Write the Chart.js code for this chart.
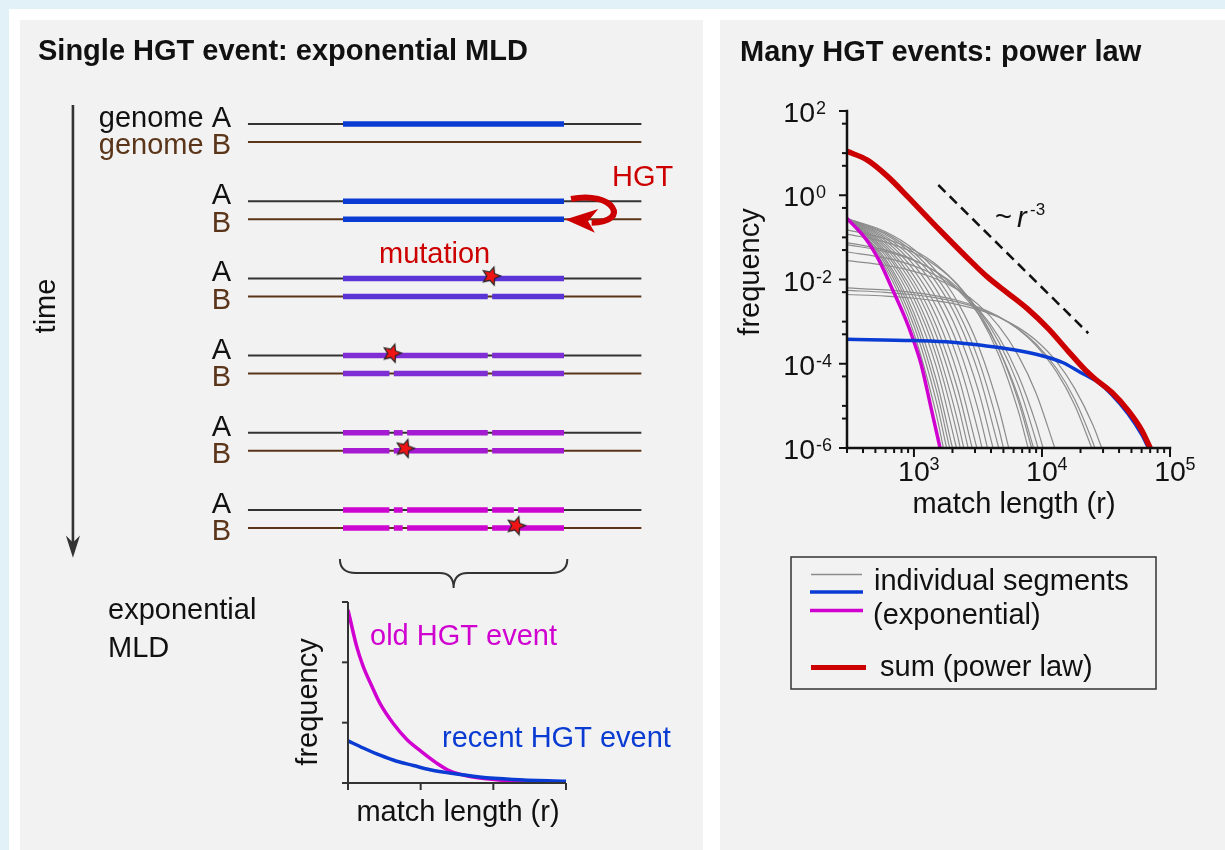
<!DOCTYPE html>
<html>
<head>
<meta charset="utf-8">
<script src="https://cdn.jsdelivr.net/npm/chart.js@4.4.0/dist/chart.umd.min.js"></script>
<style>
  html, body { margin: 0; padding: 0; }
  body { width: 1225px; height: 850px; background: #e2f1f7; position: relative; overflow: hidden; }
  #frame { position: absolute; left: 9px; top: 9px; width: 1216px; height: 841px; background: #ffffff; }
  .panel { position: absolute; top: 20px; height: 830px; background: #f2f2f2; }
  #leftPanel { left: 20px; width: 683px; }
  #rightPanel { left: 720px; width: 505px; }
  canvas { position: absolute; }
  #schematic { left: 20px; top: 20px; }
  #mld { left: 290px; top: 590px; }
  #powerlaw { left: 720px; top: 20px; }
</style>
</head>
<body>
<div id="frame"></div>
<div class="panel" id="leftPanel"></div>
<div class="panel" id="rightPanel"></div>
<canvas id="schematic" width="683" height="830"></canvas>
<canvas id="mld" width="400" height="250"></canvas>
<canvas id="powerlaw" width="505" height="830"></canvas>
<script>
const FONT = '"Liberation Sans", Arial, Helvetica, sans-serif';
const INK = '#111111';
const RED = '#cc0000';
const BLUE = '#0a3bd2';
const MAGENTA = '#d000d0';
const GRAY = '#8c8c8c';
const BROWN = '#5a3519';

// ---- left panel: genome rows, positions along the transferred stretch (0-100) ----
const genomeExtent = [-43, 135];
const rowColors = ['#0a3bd2', '#0a3bd2', '#5b34d6', '#7e2ed2', '#a41bd1', '#cd05d0'];
const rowLabelsA = ['genome A', 'A', 'A', 'A', 'A', 'A'];
const rowLabelsB = ['genome B', 'B', 'B', 'B', 'B', 'B'];
const piecesA = [
  [[0, 100]],
  [[0, 100]],
  [[0, 100]],
  [[0, 65.5], [67.5, 100]],
  [[0, 21], [23, 27], [29, 65.5], [67.5, 100]],
  [[0, 21], [23, 27], [29, 65.5], [67.5, 77.3], [79.2, 100]]
];
const piecesB = [
  [],
  [[0, 100]],
  [[0, 65.5], [67.5, 100]],
  [[0, 21], [23, 65.5], [67.5, 100]],
  [[0, 21], [23, 27], [29, 65.5], [67.5, 100]],
  [[0, 21], [23, 27], [29, 65.5], [67.5, 100]]
];
// row, genome, position of each new mutation
const mutations = [[2, 'A', 67], [3, 'A', 22.2], [4, 'B', 28.1], [5, 'B', 78.3]];
const B_OFFSET = 0.233;

// ---- inset: exponential match length distributions (arbitrary units) ----
const mldOld = [[0, 2.87], [0.12, 2.26], [0.21, 1.93], [0.33, 1.6], [0.44, 1.32], [0.62, 0.99], [0.81, 0.72],
  [1.01, 0.52], [1.22, 0.33], [1.4, 0.2], [1.63, 0.12], [1.91, 0.07], [2.27, 0.035], [3.0, 0.01]];
const mldRecent = [[0, 0.7], [0.21, 0.58], [0.44, 0.46], [0.67, 0.36], [0.9, 0.29], [1.13, 0.22], [1.4, 0.165],
  [1.81, 0.1], [2.27, 0.06], [3.0, 0.028]];
const mldTicks = [0, 1, 2, 3];

// ---- right panel: match length (r) vs frequency ----
const sumCurve = [[300, 11], [433, 6.8], [622, 2.8], [893, 0.93], [1280, 0.295], [1630, 0.138], [2640, 0.0316],
  [3780, 0.0112], [5430, 0.0047], [7800, 0.00195], [11200, 6.8e-4], [16000, 2.0e-4], [21700, 7.2e-5],
  [25900, 4.4e-5], [35100, 2.1e-5], [47400, 7.6e-6], [60300, 2.6e-6], [70000, 1e-6]];
const recentCurve = [[300, 3.8e-4], [1000, 3.55e-4], [2000, 3.25e-4], [3500, 2.7e-4], [6000, 2.15e-4],
  [10000, 1.55e-4], [14500, 1.07e-4], [20000, 6.2e-5], [27500, 3.6e-5], [35000, 1.85e-5], [47000, 6.5e-6],
  [60000, 2.1e-6], [68000, 1e-6]];
const oldCurve = [[300, 0.28], [420, 0.093], [535, 0.028], [680, 0.0058], [865, 1.1e-3], [980, 4.0e-4],
  [1135, 1.0e-4], [1360, 9e-6], [1600, 1e-6]];
const segmentCurves = [
  [[300, 0.28], [600, 0.019], [1000, 5.3e-4], [1500, 6.0e-6], [1700, 1e-6]],
  [[300, 0.28], [600, 0.0228], [1000, 8.0e-4], [1500, 1.23e-5], [1800, 1e-6]],
  [[300, 0.28], [600, 0.0267], [1000, 1.16e-3], [1500, 2.3e-5], [1900, 1e-6]],
  [[300, 0.28], [600, 0.0306], [1000, 1.6e-3], [1500, 4.0e-5], [2000, 1e-6]],
  [[300, 0.28], [600, 0.0366], [1000, 2.43e-3], [1500, 8.2e-5], [2150, 1e-6]],
  [[300, 0.28], [600, 0.0427], [1000, 3.47e-3], [1500, 1.5e-4], [2200, 1.87e-6], [2300, 1e-6]],
  [[300, 0.28], [600, 0.0487], [1000, 4.7e-3], [1500, 2.55e-4], [2200, 4.3e-6], [2450, 1e-6]],
  [[300, 0.28], [600, 0.0565], [1000, 6.7e-3], [1500, 4.6e-4], [2200, 1.1e-5], [2650, 1e-6]],
  [[300, 0.28], [600, 0.064], [1000, 8.95e-3], [1500, 7.7e-4], [2200, 2.45e-5], [2850, 1e-6]],
  [[300, 0.28], [600, 0.073], [1000, 0.0122], [1500, 1.3e-3], [2200, 5.6e-5], [3100, 1e-6]],
  [[300, 0.28], [600, 0.083], [1000, 0.0165], [1500, 2.2e-3], [2200, 1.29e-4], [3200, 2.25e-6], [3400, 1e-6]],
  [[300, 0.28], [600, 0.094], [1000, 0.022], [1500, 3.56e-3], [2200, 2.8e-4], [3200, 7.4e-6], [3750, 1e-6]],
  [[300, 0.28], [600, 0.105], [1000, 0.0286], [1500, 5.6e-3], [2200, 5.7e-4], [3200, 2.2e-5], [4150, 1e-6]],
  [[300, 0.28], [600, 0.117], [1000, 0.0363], [1500, 8.45e-3], [2200, 1.1e-3], [3200, 5.9e-5], [4600, 1e-6]],
  [[300, 0.28], [600, 0.126], [1000, 0.0433], [1500, 0.0114], [2200, 1.76e-3], [3200, 1.22e-4], [4600, 2.9e-6], [5000, 1e-6]],
  [[300, 0.28], [600, 0.136], [1000, 0.0518], [1500, 0.0155], [2200, 2.86e-3], [3200, 2.56e-4], [4600, 8.8e-6], [5500, 1e-6]],
  [[300, 0.15], [600, 0.093], [1000, 0.0493], [1500, 0.0223], [2200, 7.3e-3], [3200, 1.5e-3], [4600, 1.62e-4], [6500, 7.9e-6], [7800, 1e-6]],
  [[300, 0.12], [600, 0.0773], [1000, 0.043], [1500, 0.0207], [2200, 7.5e-3], [3200, 1.73e-3], [4600, 2.23e-4], [6500, 1.39e-5], [8300, 1e-6]],
  [[300, 0.075], [600, 0.05], [1000, 0.0291], [1500, 0.0148], [2200, 5.7e-3], [3200, 1.49e-3], [4600, 2.24e-4], [6500, 1.71e-5], [8600, 1e-6]],
  [[300, 0.067], [600, 0.0462], [1000, 0.0282], [1500, 0.0152], [2200, 6.4e-3], [3200, 1.87e-3], [4600, 3.3e-4], [6500, 3.2e-5], [9000, 1.45e-6], [9300, 1e-6]],
  [[300, 0.045], [600, 0.0325], [1000, 0.0211], [1500, 0.0123], [2200, 5.75e-3], [3200, 1.95e-3], [4600, 4.3e-4], [6500, 5.5e-5], [9000, 3.7e-6], [10200, 1e-6]],
  [[300, 0.028], [600, 0.0218], [1000, 0.0156], [1500, 0.0103], [2200, 5.75e-3], [3200, 2.5e-3], [4600, 7.8e-4], [6500, 1.6e-4], [9000, 2.0e-5], [12600, 1e-6]],
  [[300, 0.0063], [600, 5.65e-3], [1000, 4.9e-3], [1500, 4.1e-3], [2200, 3.17e-3], [3200, 2.2e-3], [4600, 1.33e-3], [6500, 6.7e-4], [9000, 2.7e-4], [13000, 6.4e-5], [18000, 1.05e-5], [24500, 1e-6]],
  [[300, 0.0055], [600, 4.97e-3], [1000, 4.34e-3], [1500, 3.67e-3], [2200, 2.9e-3], [3200, 2.07e-3], [4600, 1.29e-3], [6500, 6.8e-4], [9000, 2.94e-4], [13000, 7.7e-5], [18000, 1.43e-5], [25000, 1.35e-6], [25900, 1e-6]],
  [[300, 0.0044], [600, 4.03e-3], [1000, 3.59e-3], [1500, 3.1e-3], [2200, 2.54e-3], [3200, 1.9e-3], [4600, 1.27e-3], [6500, 7.3e-4], [9000, 3.55e-4], [13000, 1.12e-4], [18000, 2.6e-5], [25000, 3.5e-6], [29300, 1e-6]]
];
const slopeGuide = [[1550, 1.75], [23000, 5.3e-4]];
const xRange = [300, 1e5];
const yRange = [1e-6, 1e2];
const xMajorTicks = [1e3, 1e4, 1e5];
const xMajorExp = ['3', '4', '5'];
const xMinorTicks = [300, 400, 500, 600, 700, 800, 900, 2000, 3000, 4000, 5000, 6000, 7000, 8000, 9000,
  20000, 30000, 40000, 50000, 60000, 70000, 80000, 90000];
const yMajorTicks = [1e2, 1, 1e-2, 1e-4, 1e-6];
const yMajorExp = ['2', '0', '-2', '-4', '-6'];
const yMinorTicks = [50, 10, 5, 0.5, 0.1, 0.05, 5e-3, 1e-3, 5e-4, 5e-5, 1e-5, 5e-6];

const xy = pts => pts.map(p => ({ x: p[0], y: p[1] }));

function label(ctx, str, x, y, o = {}) {
  ctx.save();
  ctx.font = o.font || `29px ${FONT}`;
  ctx.fillStyle = o.color || INK;
  ctx.textAlign = o.align || 'left';
  ctx.textBaseline = 'alphabetic';
  if (o.rotate) {
    ctx.translate(x, y);
    ctx.rotate(o.rotate);
    ctx.fillText(str, 0, 0);
  } else {
    ctx.fillText(str, x, y);
  }
  ctx.restore();
}

function seg(ctx, x1, y1, x2, y2) {
  ctx.beginPath();
  ctx.moveTo(x1, y1);
  ctx.lineTo(x2, y2);
  ctx.stroke();
}

// red star with dark outline used for mutations
function makeStar(size) {
  const c = document.createElement('canvas');
  c.width = c.height = size;
  const g = c.getContext('2d');
  const R = size / 2 - 1.5, r = R * 0.45;
  g.beginPath();
  for (let i = 0; i < 10; i++) {
    const a = -Math.PI / 2 + 0.3 + i * Math.PI / 5;
    const rad = i % 2 ? r : R;
    g.lineTo(size / 2 + rad * Math.cos(a), size / 2 + rad * Math.sin(a));
  }
  g.closePath();
  g.fillStyle = '#f01414';
  g.fill();
  g.strokeStyle = '#262626';
  g.lineWidth = 1.2;
  g.stroke();
  return c;
}

// ---------------- left panel: schematic ----------------
const schematicSets = [];
rowLabelsA.forEach((_, i) => {
  [[i, piecesA[i], '#333333'], [i + B_OFFSET, piecesB[i], BROWN]].forEach(([y, pieces, col]) => {
    schematicSets.push({ data: genomeExtent.map(x => ({ x, y })), borderColor: col, borderWidth: 2, order: 3 });
    pieces.forEach(p => schematicSets.push({
      data: p.map(x => ({ x, y })), borderColor: rowColors[i], borderWidth: 5.5, order: 2
    }));
  });
});
schematicSets.push({
  data: mutations.map(m => ({ x: m[2], y: m[0] + (m[1] === 'B' ? B_OFFSET : 0) - 0.03 })),
  showLine: false, pointStyle: makeStar(22), pointRadius: 10, order: 0
});

const schematicDecor = {
  id: 'schematicDecor',
  afterDatasetsDraw(chart) {
    const { ctx } = chart;
    const sx = v => chart.scales.x.getPixelForValue(v);
    const sy = v => chart.scales.y.getPixelForValue(v);

    label(ctx, 'Single HGT event: exponential MLD', 18, 39.5, { font: `bold 29px ${FONT}` });

    // time arrow
    ctx.save();
    ctx.strokeStyle = '#333';
    ctx.fillStyle = '#333';
    ctx.lineWidth = 2.6;
    seg(ctx, sx(-122.2), sy(-0.246), sx(-122.2), sy(5.45));
    ctx.beginPath();
    ctx.moveTo(sx(-122.2), sy(5.62));
    ctx.lineTo(sx(-125.4), sy(5.33));
    ctx.lineTo(sx(-122.2), sy(5.42));
    ctx.lineTo(sx(-119.0), sy(5.33));
    ctx.closePath();
    ctx.fill();
    ctx.restore();
    label(ctx, 'time', 35, 286, { rotate: -Math.PI / 2, align: 'center' });

    // row labels
    rowLabelsA.forEach((t, i) => {
      label(ctx, t, 211, sy(i) + 3, { align: 'right' });
      label(ctx, rowLabelsB[i], 211, sy(i + B_OFFSET) + 12.5, { align: 'right', color: BROWN });
    });

    // HGT transfer arrow from A back onto B
    ctx.save();
    ctx.strokeStyle = RED;
    ctx.fillStyle = RED;
    ctx.lineWidth = 6;
    ctx.beginPath();
    ctx.moveTo(sx(103.2), sy(0.971));
    ctx.bezierCurveTo(sx(122.5), sy(0.86), sx(130.5), sy(1.27), sx(112.5), sy(1.28));
    ctx.stroke();
    ctx.beginPath();
    ctx.moveTo(sx(100.6), sy(1.237));
    ctx.lineTo(sx(115.5), sy(1.10));
    ctx.lineTo(sx(110.9), sy(1.26));
    ctx.lineTo(sx(114.0), sy(1.41));
    ctx.closePath();
    ctx.fill();
    ctx.restore();
    label(ctx, 'HGT', 592, 166, { color: RED });
    label(ctx, 'mutation', 359, 243, { color: RED });

    // brace collecting the final segments
    const L = sx(-1.4), R = sx(101.5), M = (L + R) / 2;
    const yTop = sy(5.635), yMid = sy(5.816), yTip = sy(6.01);
    ctx.save();
    ctx.strokeStyle = '#333';
    ctx.lineWidth = 2;
    ctx.beginPath();
    ctx.moveTo(L, yTop);
    ctx.quadraticCurveTo(L, yMid, L + 16, yMid);
    ctx.lineTo(M - 14, yMid);
    ctx.quadraticCurveTo(M, yMid, M, yTip);
    ctx.moveTo(R, yTop);
    ctx.quadraticCurveTo(R, yMid, R - 16, yMid);
    ctx.lineTo(M + 14, yMid);
    ctx.quadraticCurveTo(M, yMid, M, yTip);
    ctx.stroke();
    ctx.restore();

    label(ctx, 'exponential', 88, 599);
    label(ctx, 'MLD', 88, 637);
  }
};

new Chart(document.getElementById('schematic'), {
  type: 'scatter',
  data: { datasets: schematicSets },
  options: {
    responsive: false,
    animation: false,
    devicePixelRatio: 1,
    events: [],
    layout: { padding: { left: 323, right: 139, top: 104, bottom: 262.8 } },
    datasets: { scatter: { showLine: true, pointRadius: 0, clip: false, borderCapStyle: 'butt' } },
    scales: {
      x: { type: 'linear', min: 0, max: 100, display: false },
      y: { type: 'linear', min: 0, max: 6, reverse: true, display: false }
    },
    plugins: { legend: { display: false }, tooltip: { enabled: false } }
  },
  plugins: [schematicDecor]
});

// ---------------- inset: exponential MLD ----------------
const mldAxes = {
  id: 'mldAxes',
  afterDatasetsDraw(chart) {
    const { ctx, scales: { x, y } } = chart;
    const x0 = x.getPixelForValue(0), x1 = x.getPixelForValue(3);
    const y0 = y.getPixelForValue(0), y1 = y.getPixelForValue(3);
    ctx.save();
    ctx.strokeStyle = '#333';
    ctx.lineWidth = 2;
    seg(ctx, x0, y1, x0, y0);
    seg(ctx, x0, y0, x1, y0);
    mldTicks.forEach(t => {
      seg(ctx, x0 - 6, y.getPixelForValue(t), x0, y.getPixelForValue(t));
      seg(ctx, x.getPixelForValue(t), y0, x.getPixelForValue(t), y0 + 7);
    });
    ctx.restore();
    label(ctx, 'frequency', 27, 112, { rotate: -Math.PI / 2, align: 'center' });
    label(ctx, 'match length (r)', 168, 231, { align: 'center' });
    label(ctx, 'old HGT event', 80, 55, { color: MAGENTA });
    label(ctx, 'recent HGT event', 152, 157, { color: BLUE });
  }
};

new Chart(document.getElementById('mld'), {
  type: 'line',
  data: {
    datasets: [
      { data: xy(mldRecent), borderColor: BLUE, order: 0 },
      { data: xy(mldOld), borderColor: MAGENTA, order: 1 }
    ]
  },
  options: {
    responsive: false,
    animation: false,
    devicePixelRatio: 1,
    events: [],
    layout: { padding: { left: 58, right: 124, top: 12, bottom: 57 } },
    datasets: { line: { borderWidth: 3.5, pointRadius: 0, cubicInterpolationMode: 'monotone' } },
    scales: {
      x: { type: 'linear', min: 0, max: 3, display: false },
      y: { type: 'linear', min: 0, max: 3, display: false }
    },
    plugins: { legend: { display: false }, tooltip: { enabled: false } }
  },
  plugins: [mldAxes]
});

// ---------------- right panel: power law ----------------
function powerOfTen(ctx, exp, x, y, supX, supY, align) {
  label(ctx, '10', x, y, { align, font: `28.5px ${FONT}` });
  label(ctx, exp, supX, supY, { font: `18px ${FONT}` });
}

const logAxes = {
  id: 'logAxes',
  afterDatasetsDraw(chart) {
    const { ctx, scales: { x, y } } = chart;
    const left = x.getPixelForValue(xRange[0]), right = x.getPixelForValue(xRange[1]);
    const top = y.getPixelForValue(yRange[1]), bottom = y.getPixelForValue(yRange[0]);

    label(ctx, 'Many HGT events: power law', 20, 41, { font: `bold 29px ${FONT}` });

    ctx.save();
    ctx.strokeStyle = INK;
    ctx.lineWidth = 2;
    yMajorTicks.forEach(v => seg(ctx, left - 8, y.getPixelForValue(v), left, y.getPixelForValue(v)));
    yMinorTicks.forEach(v => seg(ctx, left - 5, y.getPixelForValue(v), left, y.getPixelForValue(v)));
    xMajorTicks.forEach(v => seg(ctx, x.getPixelForValue(v), bottom, x.getPixelForValue(v), bottom + 9));
    xMinorTicks.forEach(v => seg(ctx, x.getPixelForValue(v), bottom, x.getPixelForValue(v), bottom + 5));
    ctx.lineWidth = 2.5;
    ctx.lineCap = 'square';
    seg(ctx, left, top, left, bottom);
    seg(ctx, left, bottom, right, bottom);
    ctx.restore();

    yMajorTicks.forEach((v, i) => {
      const p = y.getPixelForValue(v);
      powerOfTen(ctx, yMajorExp[i], left - 32, p + 11, left - 31, p + 3, 'right');
    });
    xMajorTicks.forEach((v, i) => {
      const p = x.getPixelForValue(v);
      powerOfTen(ctx, xMajorExp[i], p, bottom + 33, p + 15.5, bottom + 22, 'center');
    });

    label(ctx, 'frequency', 39, 252, { rotate: -Math.PI / 2, align: 'center' });
    label(ctx, 'match length (r)', 294, 493, { align: 'center' });

    // slope annotation
    label(ctx, '~', 275, 206);
    label(ctx, 'r', 297, 207, { font: `italic 29px ${FONT}` });
    label(ctx, '-3', 310, 195, { font: `17px ${FONT}` });

    // legend
    ctx.save();
    ctx.strokeStyle = '#333';
    ctx.lineWidth = 1.5;
    ctx.strokeRect(71, 537, 365, 132);
    const entries = [[GRAY, 1.5, 554.5, 91, 142], [BLUE, 3.5, 572, 90, 143], [MAGENTA, 3.5, 590.5, 90, 143], [RED, 5, 647.5, 91, 146]];
    entries.forEach(([c, w, ly, a, b]) => {
      ctx.strokeStyle = c;
      ctx.lineWidth = w;
      seg(ctx, a, ly, b, ly);
    });
    ctx.restore();
    label(ctx, 'individual segments', 154, 570);
    label(ctx, '(exponential)', 153, 604);
    label(ctx, 'sum (power law)', 160, 656);
  }
};

const powerSets = [
  { data: xy(sumCurve), borderColor: RED, borderWidth: 5.5, order: 0 },
  { data: xy(slopeGuide), borderColor: INK, borderWidth: 2.5, borderDash: [10, 6], cubicInterpolationMode: 'default', order: 0 },
  { data: xy(recentCurve), borderColor: BLUE, borderWidth: 3.5, order: 1 },
  { data: xy(oldCurve), borderColor: MAGENTA, borderWidth: 3.5, order: 2 }
].concat(segmentCurves.map(c => ({ data: xy(c), borderColor: GRAY, borderWidth: 1.2, order: 3 })));

new Chart(document.getElementById('powerlaw'), {
  type: 'line',
  data: { datasets: powerSets },
  options: {
    responsive: false,
    animation: false,
    devicePixelRatio: 1,
    events: [],
    layout: { padding: { left: 127, right: 55, top: 91, bottom: 402 } },
    datasets: { line: { pointRadius: 0, cubicInterpolationMode: 'monotone', borderCapStyle: 'butt' } },
    scales: {
      x: { type: 'logarithmic', min: xRange[0], max: xRange[1], display: false },
      y: { type: 'logarithmic', min: yRange[0], max: yRange[1], display: false }
    },
    plugins: { legend: { display: false }, tooltip: { enabled: false } }
  },
  plugins: [logAxes]
});
</script>
</body>
</html>
